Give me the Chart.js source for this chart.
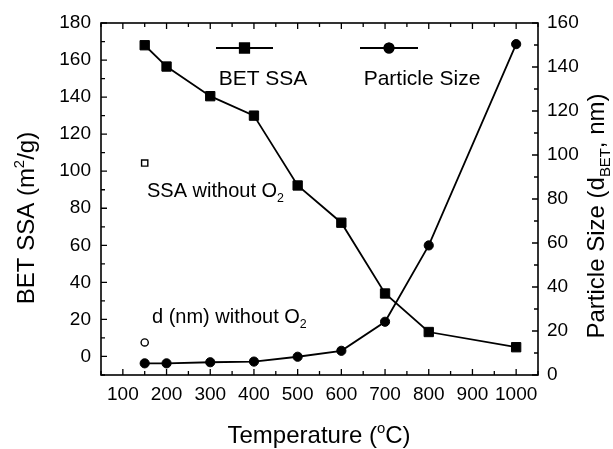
<!DOCTYPE html>
<html lang="en">
<head>
<meta charset="UTF-8">
<title>BET SSA and particle size vs temperature</title>
<script src="https://cdn.jsdelivr.net/npm/chart.js"></script>
<style>
  html, body { margin: 0; padding: 0; background: #fff; }
</style>
</head>
<body>
<canvas id="chart" width="613" height="449"></canvas>
<script>
// data
const temps = [150, 200, 300, 400, 500, 600, 700, 800, 1000];
const betSSA = [168, 156.5, 140.5, 130, 92.3, 72.2, 34, 13.2, 5];
const particleSize = [5.3, 5.3, 5.8, 6.1, 8.3, 11, 24.2, 58.9, 150.4];
const noO2Temp = [150];
const ssaNoO2 = [104.4];
const sizeNoO2 = [14.8];

const xTicks = [100, 200, 300, 400, 500, 600, 700, 800, 900, 1000];
const xMinor = [50, 150, 250, 350, 450, 550, 650, 750, 850, 950, 1050];
const leftTicks = [0, 20, 40, 60, 80, 100, 120, 140, 160, 180];
const leftMinor = [-10, 10, 30, 50, 70, 90, 110, 130, 150, 170];
const rightTicks = [0, 20, 40, 60, 80, 100, 120, 140, 160];
const rightMinor = [10, 30, 50, 70, 90, 110, 130, 150];

const FONT = 'Liberation Sans, Arial, sans-serif';

function pts(xs, ys) {
    return xs.map((x, i) => ({ x: x, y: ys[i] }));
}

// draws text with super/subscript pieces: parts = [[text, ''|'sup'|'sub'], ...]
function richText(ctx, parts, x, y, size, align) {
    let total = 0;
    const widths = parts.map(([t, k]) => {
        ctx.font = (k ? size * 0.62 : size) + 'px ' + FONT;
        const w = ctx.measureText(t).width;
        total += w;
        return w;
    });
    let cx = align === 'center' ? x - total / 2 : x;
    parts.forEach(([t, k], i) => {
        ctx.font = (k ? size * 0.62 : size) + 'px ' + FONT;
        const dy = k === 'sup' ? -size * 0.4 : (k === 'sub' ? size * 0.25 : 0);
        ctx.fillText(t, cx, y + dy);
        cx += widths[i];
    });
}

const framePlugin = {
    id: 'frame',
    afterDatasetsDraw(chart) {
        const ctx = chart.ctx;
        const a = chart.chartArea;
        const sx = chart.scales.x, sy = chart.scales.y, sy2 = chart.scales.y2;
        ctx.save();
        ctx.strokeStyle = '#000';
        ctx.lineWidth = 1.6;
        ctx.strokeRect(a.left, a.top, a.right - a.left, a.bottom - a.top);
        ctx.lineWidth = 1.3;
        ctx.beginPath();
        const tickX = (vals, len) => vals.forEach(v => {
            const px = sx.getPixelForValue(v);
            ctx.moveTo(px, a.bottom); ctx.lineTo(px, a.bottom - len);
            ctx.moveTo(px, a.top); ctx.lineTo(px, a.top + len);
        });
        tickX(xTicks, 6);
        tickX(xMinor, 4);
        leftTicks.forEach(v => { const p = sy.getPixelForValue(v); ctx.moveTo(a.left, p); ctx.lineTo(a.left + 6, p); });
        leftMinor.forEach(v => { const p = sy.getPixelForValue(v); ctx.moveTo(a.left, p); ctx.lineTo(a.left + 4, p); });
        rightTicks.forEach(v => { const p = sy2.getPixelForValue(v); ctx.moveTo(a.right, p); ctx.lineTo(a.right - 6, p); });
        rightMinor.forEach(v => { const p = sy2.getPixelForValue(v); ctx.moveTo(a.right, p); ctx.lineTo(a.right - 4, p); });
        ctx.stroke();

        // legend: line with marker above the label
        const drawKey = (x0, x1, y, dsIndex, label, labelX) => {
            ctx.lineWidth = 1.8;
            ctx.beginPath(); ctx.moveTo(x0, y); ctx.lineTo(x1, y); ctx.stroke();
            const ds = chart.data.datasets[dsIndex];
            ctx.fillStyle = '#000';
            Chart.helpers.drawPoint(ctx, {
                pointStyle: ds.pointStyle, radius: ds.pointRadius, borderWidth: 1, rotation: 0
            }, (x0 + x1) / 2, y);
            ctx.fill();
            ctx.stroke();
            ctx.textBaseline = 'alphabetic';
            richText(ctx, [[label, '']], labelX, 85, 21, 'center');
        };
        drawKey(216, 273, 48, 0, 'BET SSA', 263);
        drawKey(360, 418, 48, 1, 'Particle Size', 422);

        ctx.fillStyle = '#000';
        ctx.textBaseline = 'alphabetic';
        richText(ctx, [['SSA without O', ''], ['2', 'sub']], 147, 197, 20, 'left');
        richText(ctx, [['d (nm) without O', ''], ['2', 'sub']], 152, 323, 20, 'left');

        // axis titles
        richText(ctx, [['Temperature (', ''], ['o', 'sup'], ['C)', '']], 319, 443, 24, 'center');
        ctx.save();
        ctx.translate(34, 218);
        ctx.rotate(-Math.PI / 2);
        richText(ctx, [['BET SSA (m', ''], ['2', 'sup'], ['/g)', '']], 0, 0, 24, 'center');
        ctx.restore();
        ctx.save();
        ctx.translate(604, 216);
        ctx.rotate(-Math.PI / 2);
        richText(ctx, [['Particle Size (d', ''], ['BET', 'sub'], [', nm)', '']], 0, 0, 24, 'center');
        ctx.restore();
        ctx.restore();
    }
};

const tickFont = { family: FONT, size: 19 };
const plain = v => String(v);

new Chart(document.getElementById('chart').getContext('2d'), {
    type: 'line',
    data: {
        datasets: [
            {
                label: 'BET SSA',
                data: pts(temps, betSSA),
                yAxisID: 'y',
                borderColor: '#000',
                backgroundColor: '#000',
                borderWidth: 1.8,
                pointStyle: 'rect',
                pointRadius: 6.6,
                pointBorderWidth: 1
            },
            {
                label: 'Particle Size',
                data: pts(temps, particleSize),
                yAxisID: 'y2',
                borderColor: '#000',
                backgroundColor: '#000',
                borderWidth: 1.8,
                pointStyle: 'circle',
                pointRadius: 4.6,
                pointBorderWidth: 1
            },
            {
                label: 'SSA without O2',
                data: pts(noO2Temp, ssaNoO2),
                yAxisID: 'y',
                showLine: false,
                borderColor: '#000',
                backgroundColor: '#fff',
                pointStyle: 'rect',
                pointRadius: 4.4,
                pointBorderWidth: 1.4
            },
            {
                label: 'd (nm) without O2',
                data: pts(noO2Temp, sizeNoO2),
                yAxisID: 'y2',
                showLine: false,
                borderColor: '#000',
                backgroundColor: '#fff',
                pointStyle: 'circle',
                pointRadius: 3.6,
                pointBorderWidth: 1.4
            }
        ]
    },
    options: {
        responsive: false,
        animation: false,
        events: [],
        layout: { padding: { top: 23, left: 0, right: 0, bottom: 0 } },
        plugins: { legend: { display: false }, tooltip: { enabled: false } },
        scales: {
            x: {
                type: 'linear',
                min: 50,
                max: 1050,
                afterBuildTicks: s => { s.ticks = xTicks.map(v => ({ value: v })); },
                afterFit: s => { s.height = 74; },
                grid: { display: false, drawTicks: false },
                border: { display: false },
                ticks: { font: tickFont, color: '#000', padding: 8, maxRotation: 0, autoSkip: false, callback: plain }
            },
            y: {
                position: 'left',
                min: -10,
                max: 180,
                afterBuildTicks: s => { s.ticks = leftTicks.map(v => ({ value: v })); },
                afterFit: s => { s.width = 101; },
                grid: { display: false, drawTicks: false },
                border: { display: false },
                ticks: { font: tickFont, color: '#000', padding: 10, callback: plain }
            },
            y2: {
                position: 'right',
                min: 0,
                max: 160,
                afterBuildTicks: s => { s.ticks = rightTicks.map(v => ({ value: v })); },
                afterFit: s => { s.width = 75; },
                grid: { display: false, drawTicks: false },
                border: { display: false },
                ticks: { font: tickFont, color: '#000', padding: 9, callback: plain }
            }
        }
    },
    plugins: [framePlugin]
});
</script>
</body>
</html>
